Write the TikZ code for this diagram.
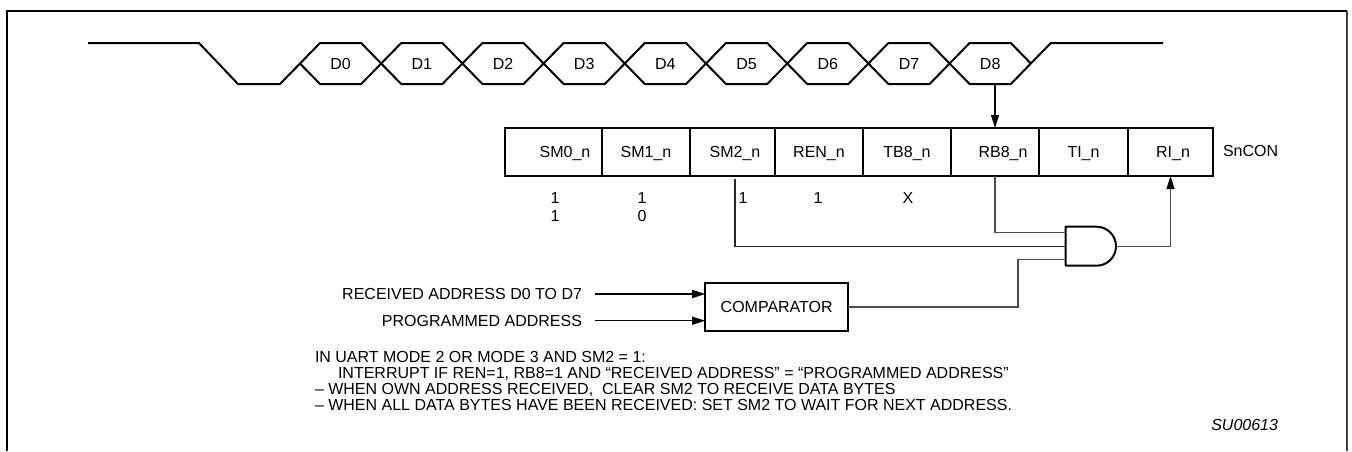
\documentclass[tikz,border=0pt]{standalone}
\usepackage{fontspec}
\setmainfont{Liberation Sans}
\usetikzlibrary{arrows.meta,calc}
\begin{document}
\begin{tikzpicture}[x=1pt,y=-1pt,
  wave/.style={line width=2pt,line join=round},
  cell/.style={draw,line width=2pt,inner sep=0pt,outer sep=0pt,minimum height=48pt,text height=11.5pt,text depth=0pt,font=\fontsize{16}{18}\selectfont},
  conn/.style={line width=1.1pt,draw=black!70},
  arr/.style={-{Triangle[length=13pt,width=8pt,color=black]}},
  txt/.style={inner sep=0pt,outer sep=0pt,font=\fontsize{16}{18}\selectfont},
]
\useasboundingbox (0,0) rectangle (1352,451);
% frame
\draw[line width=2pt] (7,451) -- (7,10.7) -- (1347,10.7);
\draw[line width=1.4pt,black!75] (1347,10.7) -- (1347,451);

% waveform
\draw[wave] (88,43) -- (199,43) -- (238,84) -- (280,84) -- (300,63.5);
\foreach \k in {0,...,8}{
  \pgfmathsetmacro\ca{300+81.2*\k}
  \pgfmathsetmacro\cb{300+81.2*(\k+1)}
  \draw[wave] (\ca,63.5) -- (\ca+20,43) -- (\cb-20,43) -- (\cb,63.5) -- (\cb-20,84) -- (\ca+20,84) -- cycle;
  \node[txt,anchor=base] (d\k) at ({(\ca+\cb)/2},69.2) {D\k};
}
\draw[wave] (1030.8,63.5) -- (1050.8,43) -- (1163,43);

% register
\node[cell,minimum width=97pt] (c1) at (553.5,152) {\hspace*{23pt}SM0\_n};
\node[cell,minimum width=88pt] (c2) at (646,152) {SM1\_n};
\node[cell,minimum width=85pt] (c3) at (732.5,152) {\hspace*{5pt}SM2\_n};
\node[cell,minimum width=88pt] (c4) at (819,152) {REN\_n};
\node[cell,minimum width=88pt] (c5) at (907,152) {TB8\_n};
\node[cell,minimum width=88pt] (c6) at (995,152) {\hspace*{16pt}RB8\_n};
\node[cell,minimum width=89pt] (c7) at (1083.5,152) {TI\_n};
\node[cell,minimum width=85pt] (c8) at (1170.5,152) {\hspace*{5pt}RI\_n};
\node[txt,anchor=base west] (sncon) at (1223,156.3) {SnCON};

% D8 -> RB8
\coordinate (d8b) at (995,84);
\draw[line width=1.1pt,arr] (d8b) -- (c6.north);

% values
\node[txt,anchor=base] (v1a) at (555,203.6) {1};
\node[txt,anchor=base] (v1b) at (555,221.6) {1};
\node[txt,anchor=base] (v2a) at (642,203.6) {1};
\node[txt,anchor=base] (v2b) at (642,221.6) {0};
\node[txt,anchor=base] (v3a) at (743,203.6) {1};
\node[txt,anchor=base] (v4a) at (818,203.6) {1};
\node[txt,anchor=base] (v5a) at (908,203.6) {X};

% AND gate
\draw[line width=2pt,line join=round] (1065.7,226.7) -- (1096.5,226.7) arc[start angle=90,end angle=-90,radius=19.5pt] -- (1065.7,265.7) -- cycle;
\coordinate (g1) at (1065.7,232.7);
\coordinate (g2) at (1065.7,246.3);
\coordinate (g3) at (1065.7,259.3);
\coordinate (gout) at (1116,246.3);
\coordinate (gk) at (1018,0);

\draw[conn] (c6.south) |- (g1);
\draw[conn,draw=black!85] ([xshift=2.5pt,yshift=-3pt]c3.south) |- (g2);
\draw[conn,arr] (gout) -| (c8.south);

% comparator
\node[draw,line width=2pt,minimum width=143pt,minimum height=48pt,txt] (comp) at (776.7,307) {COMPARATOR};
\draw[conn] (comp.east) -- (comp.east -| gk) |- (g3);

\node[txt,anchor=base east] (ra) at (582,299.7) {RECEIVED ADDRESS D0 TO D7};
\node[txt,anchor=base east] (pa) at (582,326.4) {PROGRAMMED ADDRESS};
\coordinate (ras) at (595,294);
\coordinate (pas) at (595,320.7);
\draw[line width=1.1pt,arr] (ras) -- (ras -| comp.west);
\draw[line width=1.1pt,arr] (pas) -- (pas -| comp.west);

% notes
\node[txt,anchor=base west] (n1) at (315,362.7) {IN UART MODE 2 OR MODE 3 AND SM2 = 1:};
\node[txt,anchor=base west] (n2) at (338,378.7) {INTERRUPT IF REN=1, RB8=1 AND “RECEIVED ADDRESS” = “PROGRAMMED ADDRESS”};
\node[txt,anchor=base west] (n3) at (315,394.7) {– WHEN OWN ADDRESS RECEIVED,\ \ CLEAR SM2 TO RECEIVE DATA BYTES};
\node[txt,anchor=base west] (n4) at (315,410.7) {– WHEN ALL DATA BYTES HAVE BEEN RECEIVED: SET SM2 TO WAIT FOR NEXT ADDRESS.};
\node[txt,anchor=base east] (su) at (1278,430.7) {\itshape SU00613};
\end{tikzpicture}
\end{document}
